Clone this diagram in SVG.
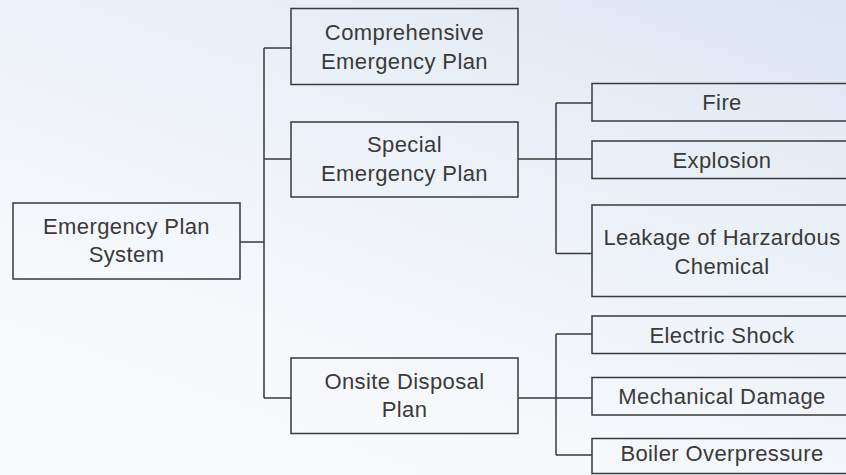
<svg xmlns="http://www.w3.org/2000/svg" width="846" height="475" viewBox="0 0 846 475">
  <defs>
    <linearGradient id="bg" x1="1" y1="0" x2="0.35" y2="1">
      <stop offset="0" stop-color="#dbe6f2"/>
      <stop offset="0.45" stop-color="#edf2f8"/>
      <stop offset="1" stop-color="#fafbfd"/>
    </linearGradient>
  </defs>
  <style>
    .box { fill: none; stroke: #3a3a3a; stroke-width: 1.5; }
    .lbl { font-family: "Liberation Sans", Arial, sans-serif; font-size: 22px; letter-spacing: 0.4px; fill: #3a3a3a; text-anchor: middle; }
    .wire { fill: none; stroke: #3a3a3a; stroke-width: 1.5; }
  </style>

  <rect width="846" height="475" fill="url(#bg)"/>

  <g id="connectors">
    <path class="wire" d="M240 242 H264 M264 48 V398 M264 48 H291 M264 159 H291 M264 398 H291"/>
    <path class="wire" d="M518 159 H556 M556 103 V253.5 M556 103 H592 M556 159 H592 M556 253.5 H592"/>
    <path class="wire" d="M518 398 H556 M556 334 V455 M556 334 H592 M556 398 H592 M556 455 H592"/>
  </g>

  <g id="root">
    <rect class="box" x="13" y="203" width="227" height="76"/>
    <text class="lbl" x="126.5" y="233.5">Emergency Plan</text>
    <text class="lbl" x="126.5" y="262">System</text>
  </g>

  <g id="comprehensive">
    <rect class="box" x="291" y="8.5" width="227" height="76"/>
    <text class="lbl" x="404.5" y="40">Comprehensive</text>
    <text class="lbl" x="404.5" y="68.5">Emergency Plan</text>
  </g>

  <g id="special">
    <rect class="box" x="291" y="122" width="227" height="75"/>
    <text class="lbl" x="404.5" y="152">Special</text>
    <text class="lbl" x="404.5" y="180.5">Emergency Plan</text>
  </g>

  <g id="onsite">
    <rect class="box" x="291" y="358" width="227" height="75.5"/>
    <text class="lbl" x="404.5" y="388.5">Onsite Disposal</text>
    <text class="lbl" x="404.5" y="417">Plan</text>
  </g>

  <g id="fire">
    <rect class="box" x="592" y="83.5" width="260" height="37.5"/>
    <text class="lbl" x="722" y="110">Fire</text>
  </g>

  <g id="explosion">
    <rect class="box" x="592" y="141" width="260" height="37.5"/>
    <text class="lbl" x="722" y="168">Explosion</text>
  </g>

  <g id="leakage">
    <rect class="box" x="592" y="205" width="260" height="91.5"/>
    <text class="lbl" x="722" y="245">Leakage of Harzardous</text>
    <text class="lbl" x="722" y="273.5">Chemical</text>
  </g>

  <g id="electric-shock">
    <rect class="box" x="592" y="316" width="260" height="37.5"/>
    <text class="lbl" x="722" y="343">Electric Shock</text>
  </g>

  <g id="mechanical-damage">
    <rect class="box" x="592" y="377.5" width="260" height="37.5"/>
    <text class="lbl" x="722" y="403.5">Mechanical Damage</text>
  </g>

  <g id="boiler-overpressure">
    <rect class="box" x="592" y="438.5" width="260" height="35"/>
    <text class="lbl" x="722" y="460.5">Boiler Overpressure</text>
  </g>
</svg>
